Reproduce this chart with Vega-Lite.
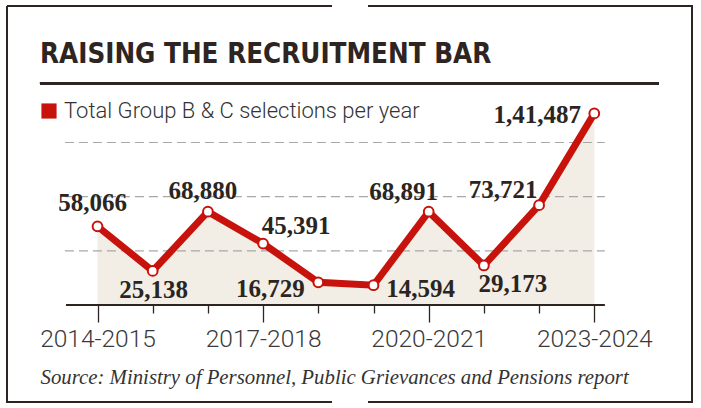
{
  "$schema": "https://vega.github.io/schema/vega-lite/v6.json",
  "width": 685,
  "height": 396,
  "autosize": {"type": "none"},
  "padding": {"left": 7, "top": 6, "right": 9, "bottom": 6},
  "background": "#ffffff",
  "title": {
    "text": "RAISING THE RECRUITMENT BAR",
    "anchor": "start",
    "frame": "group",
    "orient": "top",
    "offset": -84,
    "baseline": "alphabetic",
    "dx": 33,
    "font": "Liberation Sans Narrow, DejaVu Sans Condensed, Liberation Sans",
    "fontSize": 27.5,
    "fontWeight": "bold",
    "color": "#2e2421"
  },
  "data": {
    "values": [
      {"period": "2014-2015", "start": 2014, "selections": 58066},
      {"period": "2015-2016", "start": 2015, "selections": 25138},
      {"period": "2016-2017", "start": 2016, "selections": 68880},
      {"period": "2017-2018", "start": 2017, "selections": 45391},
      {"period": "2018-2019", "start": 2018, "selections": 16729},
      {"period": "2019-2020", "start": 2019, "selections": 14594},
      {"period": "2020-2021", "start": 2020, "selections": 68891},
      {"period": "2021-2022", "start": 2021, "selections": 29173},
      {"period": "2022-2023", "start": 2022, "selections": 73721},
      {"period": "2023-2024", "start": 2023, "selections": 141487}
    ]
  },
  "layer": [
    {
      "mark": {"type": "area", "color": "#f2eee5"},
      "encoding": {
        "x": {
          "field": "start",
          "type": "quantitative",
          "scale": {"domain": [2012.3605, 2024.7699], "nice": false, "zero": false},
          "axis": {
            "orient": "bottom",
            "offset": -97,
            "values": [2014, 2015, 2016, 2017, 2018, 2019, 2020, 2021, 2022, 2023],
            "domain": false,
            "grid": false,
            "ticks": true,
            "tickColor": "#2e2421",
            "tickWidth": 1.3,
            "tickSize": {"condition": {"test": "indexof([2014,2017,2020,2023], datum.value) >= 0", "value": 17}, "value": 8},
            "labelExpr": "indexof([2014,2017,2020,2023], datum.value) >= 0 ? datum.value + '-' + (datum.value + 1) : ''",
            "labelFont": "Roboto",
            "labelFontWeight": 300,
            "labelFontSize": 24.5,
            "labelColor": "#3a3a3a",
            "labelBaseline": "alphabetic",
            "labelPadding": 24,
            "labelFlush": false,
            "labelOverlap": false,
            "labelBound": false,
            "title": "Source: Ministry of Personnel, Public Grievances and Pensions report",
            "titleFont": "Liberation Serif",
            "titleFontStyle": "italic",
            "titleFontWeight": "normal",
            "titleFontSize": 20.8,
            "titleColor": "#333333",
            "titleAlign": "left",
            "titleBaseline": "alphabetic",
            "titleAnchor": "start",
            "titleX": 33,
            "titleY": 78
          }
        },
        "y": {
          "field": "selections",
          "type": "quantitative",
          "scale": {"domain": [-71630, 220800], "nice": false, "zero": false},
          "axis": null
        }
      }
    },
    {
      "data": {"values": [{"level": 40000}, {"level": 80000}, {"level": 120000}]},
      "mark": {"type": "rule", "color": "#a8a8a8", "strokeWidth": 1.2, "strokeDash": [9, 5]},
      "encoding": {
        "y": {"field": "level", "type": "quantitative", "scale": {"domain": [-71630, 220800], "nice": false, "zero": false}, "axis": null},
        "x": {"datum": 2013.41, "type": "quantitative", "scale": {"domain": [2012.3605, 2024.7699], "nice": false, "zero": false}},
        "x2": {"datum": 2023.19}
      }
    },
    {
      "mark": {"type": "rule", "color": "#2e2421", "strokeWidth": 1.5},
      "encoding": {
        "y": {"datum": 0, "type": "quantitative", "scale": {"domain": [-71630, 220800], "nice": false, "zero": false}, "axis": null},
        "x": {"datum": 2013.43, "type": "quantitative", "scale": {"domain": [2012.3605, 2024.7699], "nice": false, "zero": false}},
        "x2": {"datum": 2023.18}
      }
    },
    {
      "mark": {"type": "rule", "color": "#2e2421", "strokeWidth": 2.5},
      "encoding": {
        "y": {"datum": 163717, "type": "quantitative", "scale": {"domain": [-71630, 220800], "nice": false, "zero": false}, "axis": null},
        "x": {"datum": 2012.958, "type": "quantitative", "scale": {"domain": [2012.3605, 2024.7699], "nice": false, "zero": false}},
        "x2": {"datum": 2024.172}
      }
    },
    {
      "mark": {"type": "line", "strokeWidth": 7},
      "encoding": {
        "x": {"field": "start", "type": "quantitative", "scale": {"domain": [2012.3605, 2024.7699], "nice": false, "zero": false}},
        "y": {"field": "selections", "type": "quantitative", "scale": {"domain": [-71630, 220800], "nice": false, "zero": false}, "axis": null},
        "color": {
          "datum": "Total Group B & C selections per year",
          "type": "nominal",
          "scale": {"range": ["#c8120c"]},
          "legend": {
            "orient": "none",
            "legendX": 31,
            "legendY": 94,
            "title": null,
            "padding": 0,
            "symbolType": "square",
            "symbolSize": 230,
            "symbolFillColor": "#c8120c",
            "symbolStrokeColor": "#c8120c",
            "symbolStrokeWidth": 0,
            "labelFont": "Roboto",
            "labelFontWeight": 300,
            "labelFontSize": 22,
            "labelColor": "#333333",
            "labelOffset": 4,
            "labelLimit": 0
          }
        }
      }
    },
    {
      "mark": {"type": "point", "filled": true, "fill": "#ffffff", "stroke": "#c8120c", "strokeWidth": 2, "size": 95, "opacity": 1},
      "encoding": {
        "x": {"field": "start", "type": "quantitative", "scale": {"domain": [2012.3605, 2024.7699], "nice": false, "zero": false}},
        "y": {"field": "selections", "type": "quantitative", "scale": {"domain": [-71630, 220800], "nice": false, "zero": false}, "axis": null}
      }
    },
    {
      "mark": {
        "type": "text",
        "font": "Liberation Serif",
        "fontWeight": "bold",
        "fontSize": 25,
        "color": "#2b2521",
        "align": "center",
        "baseline": "alphabetic",
        "dx": {"expr": "[-5, 1, -5, 33, -48, 47, -25, 29, -36, -57][datum.start - 2014]"},
        "dy": {"expr": "[-15, 27, -13, -9.5, 15, 12, -12, 26.5, -7, 10][datum.start - 2014]"}
      },
      "encoding": {
        "x": {"field": "start", "type": "quantitative", "scale": {"domain": [2012.3605, 2024.7699], "nice": false, "zero": false}},
        "y": {"field": "selections", "type": "quantitative", "scale": {"domain": [-71630, 220800], "nice": false, "zero": false}, "axis": null},
        "text": {"field": "selections", "type": "quantitative", "format": ",d"}
      }
    }
  ],
  "config": {
    "locale": {"number": {"decimal": ".", "thousands": ",", "grouping": [3, 2], "currency": ["₹", ""]}},
    "view": {"stroke": "#2e2421", "strokeWidth": 2, "strokeDash": [325, 36, 1044, 36, 721, 0], "fill": null}
  }
}
